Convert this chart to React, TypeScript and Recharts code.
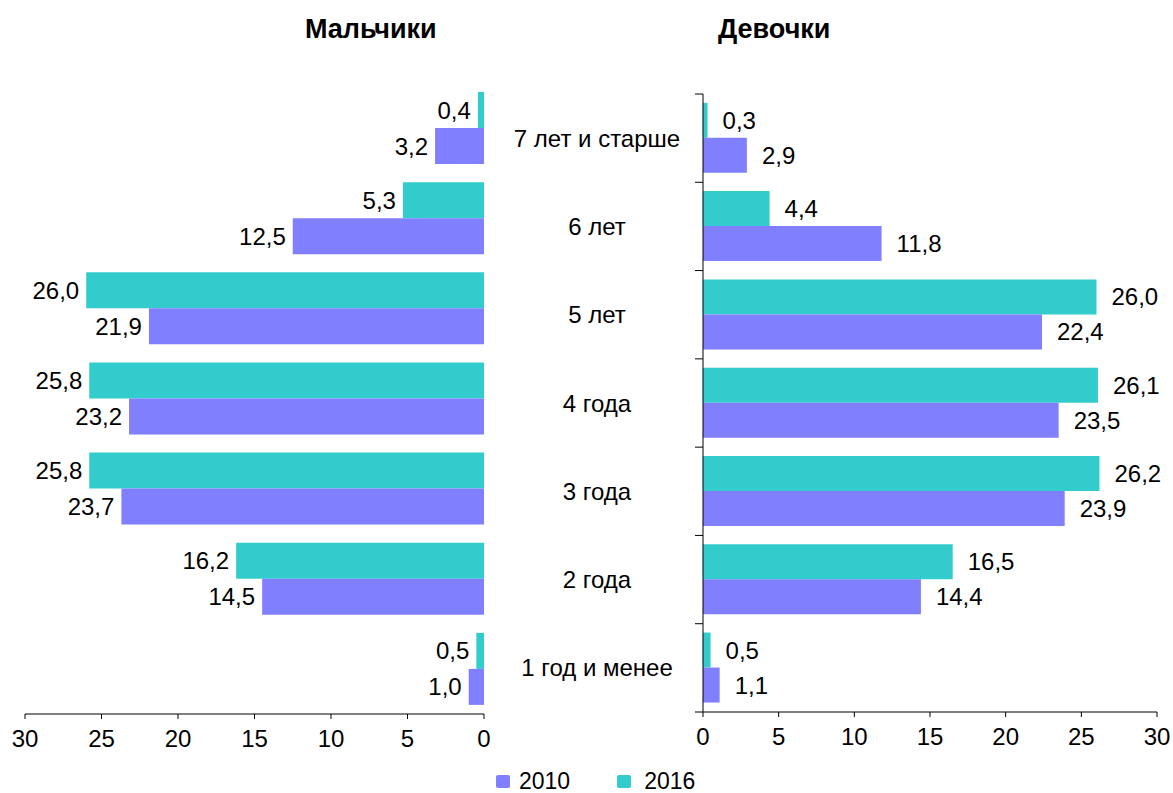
import { BarChart, Bar, XAxis, YAxis, LabelList } from 'recharts'

const CATEGORIES = ['7 лет и старше', '6 лет', '5 лет', '4 года', '3 года', '2 года', '1 год и менее']
const BOYS_2016 = [0.4, 5.3, 26.0, 25.8, 25.8, 16.2, 0.5]
const BOYS_2010 = [3.2, 12.5, 21.9, 23.2, 23.7, 14.5, 1.0]
const GIRLS_2016 = [0.3, 4.4, 26.0, 26.1, 26.2, 16.5, 0.5]
const GIRLS_2010 = [2.9, 11.8, 22.4, 23.5, 23.9, 14.4, 1.1]
const X_TICKS = [0, 5, 10, 15, 20, 25, 30]

const C = { y2010: '#8080FF', y2016: '#33CCCC', text: '#000000', axis: '#000000' }
const FONT = '"Liberation Sans", Arial, sans-serif'
const FS = 24

const boys = CATEGORIES.map((name, i) => ({ name, v2016: BOYS_2016[i], v2010: BOYS_2010[i] }))
const girls = CATEGORIES.map((name, i) => ({ name, v2016: GIRLS_2016[i], v2010: GIRLS_2010[i] }))

const fmt = (v: number) => v.toFixed(1).replace('.', ',')

function LeftLabel(props: any) {
  const { x, y, width, height, value } = props
  const left = Math.min(x, x + width)
  return (
    <text x={left - 7} y={y + height / 2} textAnchor="end" dominantBaseline="central" fontSize={FS} fill={C.text} fontFamily={FONT}>
      {fmt(value)}
    </text>
  )
}

function RightLabel(props: any) {
  const { x, y, width, height, value } = props
  const right = Math.max(x, x + width)
  return (
    <text x={right + 15} y={y + height / 2} textAnchor="start" dominantBaseline="central" fontSize={FS} fill={C.text} fontFamily={FONT}>
      {fmt(value)}
    </text>
  )
}

const R_TOP = 94
const R_H = 760
const R_BOTTOM_M = 8
const X_AX_H = 40
const R_BAND = (R_H - R_TOP - R_BOTTOM_M - X_AX_H) / CATEGORIES.length

function CatTick(props: any) {
  const { x, y, payload, index } = props
  return (
    <g>
      <text x={x - 106} y={y} textAnchor="middle" dominantBaseline="central" fontSize={FS} fill={C.text} fontFamily={FONT}>
        {payload.value}
      </text>
      <line x1={x - 8} x2={x} y1={y - R_BAND / 2} y2={y - R_BAND / 2} stroke={C.axis} />
      {index === CATEGORIES.length - 1 && (
        <line x1={x - 8} x2={x} y1={y + R_BAND / 2} y2={y + R_BAND / 2} stroke={C.axis} />
      )}
    </g>
  )
}

const xTick = { fill: C.text, fontSize: FS, fontFamily: FONT }

export default function App() {
  return (
    <div style={{ position: 'absolute', left: 0, top: 0, width: 1173, height: 793, background: '#fff', fontFamily: FONT }}>
      <div style={{ position: 'absolute', left: 305, top: 14, fontSize: 27, fontWeight: 700 }}>Мальчики</div>
      <div style={{ position: 'absolute', left: 718, top: 14, fontSize: 27, fontWeight: 700 }}>Девочки</div>

      <div style={{ position: 'absolute', left: 0, top: 0 }}>
        <BarChart
          width={500}
          height={760}
          data={boys}
          layout="vertical"
          margin={{ top: 83, right: 16, bottom: 6, left: 25 }}
          barCategoryGap="10%"
          barGap={0}
        >
          <XAxis
            type="number"
            domain={[0, 30]}
            ticks={X_TICKS}
            reversed
            height={X_AX_H}
            tick={xTick}
            tickSize={5}
            tickMargin={11}
            axisLine={{ stroke: C.axis }}
            tickLine={{ stroke: C.axis }}
          />
          <YAxis type="category" dataKey="name" orientation="right" width={0} tick={false} tickLine={false} axisLine={{ stroke: C.axis }} />
          <Bar dataKey="v2016" fill={C.y2016} isAnimationActive={false}>
            <LabelList dataKey="v2016" content={LeftLabel} />
          </Bar>
          <Bar dataKey="v2010" fill={C.y2010} isAnimationActive={false}>
            <LabelList dataKey="v2010" content={LeftLabel} />
          </Bar>
        </BarChart>
      </div>

      <div style={{ position: 'absolute', left: 490, top: 0 }}>
        <BarChart
          width={683}
          height={R_H}
          data={girls}
          layout="vertical"
          margin={{ top: R_TOP, right: 16, bottom: R_BOTTOM_M, left: 0 }}
          barCategoryGap="10%"
          barGap={0}
        >
          <XAxis
            type="number"
            domain={[0, 30]}
            ticks={X_TICKS}
            height={X_AX_H}
            tick={xTick}
            tickSize={5}
            tickMargin={11}
            axisLine={{ stroke: C.axis }}
            tickLine={{ stroke: C.axis }}
          />
          <YAxis
            type="category"
            dataKey="name"
            width={213}
            tick={CatTick}
            tickSize={0}
            tickMargin={0}
            tickLine={false}
            axisLine={{ stroke: C.axis }}
            interval={0}
          />
          <Bar dataKey="v2016" fill={C.y2016} isAnimationActive={false}>
            <LabelList dataKey="v2016" content={RightLabel} />
          </Bar>
          <Bar dataKey="v2010" fill={C.y2010} isAnimationActive={false}>
            <LabelList dataKey="v2010" content={RightLabel} />
          </Bar>
        </BarChart>
      </div>

      <div style={{ position: 'absolute', left: 496, top: 768, display: 'flex', alignItems: 'center', fontSize: 23 }}>
        <span style={{ width: 14, height: 13, background: C.y2010, borderRadius: 2, marginRight: 9 }} />
        <span style={{ marginRight: 47 }}>2010</span>
        <span style={{ width: 14, height: 13, background: C.y2016, borderRadius: 2, marginRight: 13 }} />
        <span>2016</span>
      </div>
    </div>
  )
}
